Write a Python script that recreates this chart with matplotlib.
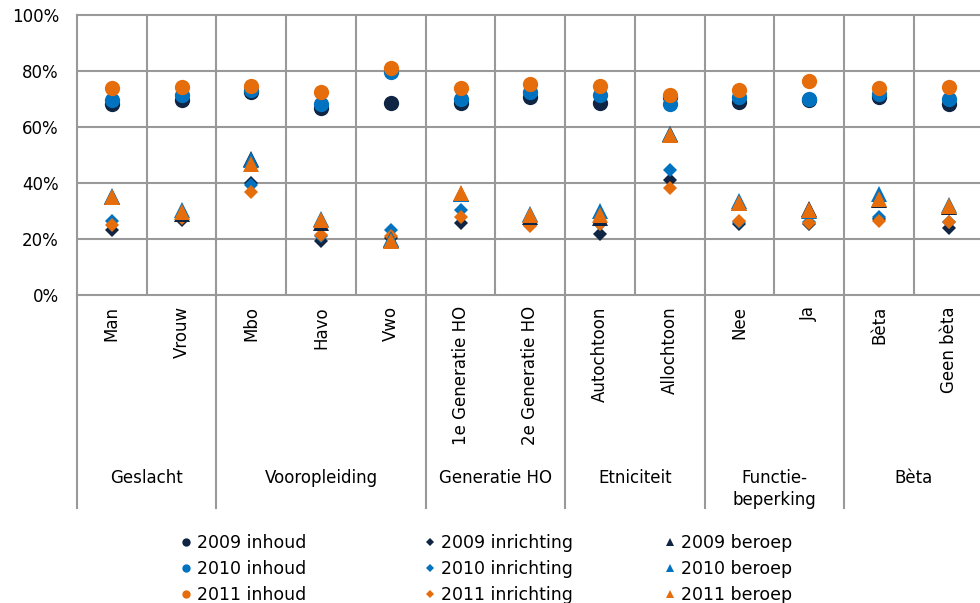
import numpy as np
import matplotlib
matplotlib.use('Agg')
import matplotlib.pyplot as plt
from matplotlib.lines import Line2D

plt.rcParams['font.family'] = ['DejaVu Sans']
plt.rcParams['font.size'] = 12

categories = ['Man', 'Vrouw', 'Mbo', 'Havo', 'Vwo', '1e Generatie HO', '2e Generatie HO',
              'Autochtoon', 'Allochtoon', 'Nee', 'Ja', 'Bèta', 'Geen bèta']
groups = ['Geslacht', 'Vooropleiding', 'Generatie HO', 'Etniciteit', 'Functie-\nbeperking', 'Bèta']
group_sizes = [2, 3, 2, 2, 2, 2]

# waarden in %
inhoud_2009 = [68.3, 69.5, 72.5, 66.9, 68.6, 68.7, 70.7, 68.7, 70.7, 68.9, 69.5, 70.7, 68.3]
inhoud_2010 = [69.8, 71.3, 73.1, 68.1, 79.6, 70.1, 72.5, 71.3, 68.3, 70.7, 70.1, 71.9, 70.1]
inhoud_2011 = [74.0, 74.3, 74.6, 72.4, 81.1, 74.0, 75.5, 74.5, 71.5, 73.3, 76.4, 74.0, 74.3]
inrichting_2009 = [23.3, 26.9, 40.0, 19.3, 20.3, 25.7, 25.0, 21.9, 41.2, 25.2, 25.2, 27.0, 24.0]
inrichting_2010 = [26.4, 28.0, 39.2, 21.0, 23.3, 30.2, 26.0, 25.5, 44.8, 26.0, 26.0, 27.9, 26.0]
inrichting_2011 = [24.9, 27.5, 36.8, 21.5, 21.0, 27.9, 24.8, 25.2, 38.3, 26.3, 25.7, 26.4, 26.1]
beroep_2009 = [35.0, 29.0, 48.7, 25.7, 19.5, 36.0, 27.9, 27.5, 57.6, 33.0, 30.8, 34.0, 31.5]
beroep_2010 = [35.5, 30.5, 48.3, 27.3, 20.0, 36.0, 29.0, 30.0, 57.5, 33.5, 30.0, 36.2, 32.0]
beroep_2011 = [35.0, 29.5, 46.9, 26.7, 19.3, 36.4, 28.5, 28.5, 57.0, 32.9, 30.2, 34.4, 31.7]

c09, c10, c11 = '#0f2543', '#0072bf', '#e56d0c'
grid_c = '#999999'

series = [
    ('2009 inhoud', inhoud_2009, 'o', c09, 11),
    ('2010 inhoud', inhoud_2010, 'o', c10, 11),
    ('2011 inhoud', inhoud_2011, 'o', c11, 11),
    ('2009 inrichting', inrichting_2009, 'D', c09, 7.5),
    ('2010 inrichting', inrichting_2010, 'D', c10, 7.5),
    ('2011 inrichting', inrichting_2011, 'D', c11, 7.5),
    ('2009 beroep', beroep_2009, '^', c09, 12),
    ('2010 beroep', beroep_2010, '^', c10, 12),
    ('2011 beroep', beroep_2011, '^', c11, 12),
]

fig = plt.figure(figsize=(9.8, 6.03), dpi=100)
ax = fig.add_axes([77 / 980, 1 - 295 / 603, (983.5 - 77) / 980, 280 / 603])

x = np.arange(len(categories))
for name, vals, m, c, ms in series:
    ax.plot(x, vals, linestyle='none', marker=m, color=c, markersize=ms,
            markeredgewidth=0, zorder=3)

ax.set_xlim(-0.5, len(categories) - 0.5)
ax.set_ylim(0, 100)
ax.set_yticks(np.arange(0, 101, 20))
ax.set_yticklabels([f'{v}%' for v in range(0, 101, 20)])
ax.tick_params(axis='y', length=0, pad=13, labelsize=12)
ax.set_xticks([])
for v in range(20, 100, 20):
    ax.axhline(v, color=grid_c, lw=1.5, zorder=1)
for b in np.arange(0.5, len(categories) - 0.5, 1):
    ax.axvline(b, color=grid_c, lw=1.5, zorder=1)
for s in ax.spines.values():
    s.set_color(grid_c)
    s.set_linewidth(1.5)
ax.spines['right'].set_visible(False)

# categorie-tabel onder de grafiek
tr = ax.get_xaxis_transform()
for i, cat in enumerate(categories):
    ax.text(i, -0.04, cat, rotation=90, ha='center', va='top', transform=tr,
            fontsize=12)
start = 0
bounds = [-0.5]
for g, n in zip(groups, group_sizes):
    ax.text(start + (n - 1) / 2, -0.62, g, ha='center', va='top', transform=tr,
            fontsize=12, linespacing=1.3)
    start += n
    bounds.append(start - 0.5)
for b in bounds:
    ax.plot([b, b], [0, -0.762], color=grid_c, lw=1.5, transform=tr, clip_on=False)

# legenda: drie kolommen
col_x = [181 / 980, 425 / 980, 665 / 980]
for k in range(3):
    handles = []
    for name, vals, m, c, ms in series[3 * k:3 * k + 3]:
        handles.append(Line2D([], [], linestyle='none', marker=m, color=c,
                              markersize={'o': 6, 'D': 4.5, '^': 6}[m],
                              markeredgewidth=0, label=name))
    fig.legend(handles=handles, loc='upper left', bbox_to_anchor=(col_x[k], 1 - 534 / 603),
               frameon=False, handlelength=0.6, handletextpad=0.35, labelspacing=0.45,
               borderpad=0, borderaxespad=0, fontsize=12.5)

plt.savefig('out.png', dpi=100)
